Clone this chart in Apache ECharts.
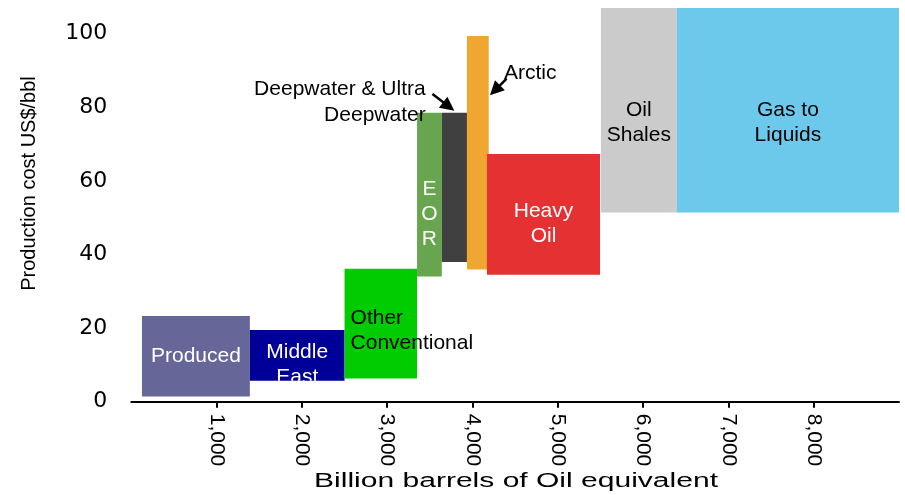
<!DOCTYPE html>
<html>
<head>
<meta charset="utf-8">
<title>Oil supply cost curve</title>
<script src="https://cdn.jsdelivr.net/npm/echarts@6/dist/echarts.min.js"></script>
<style>
  html, body { margin: 0; padding: 0; background: #fff; }
  #chart { width: 905px; height: 495px; }
</style>
</head>
<body>
<div id="chart"></div>
<script>
// Resource categories, in order of increasing cumulative volume
const categories = [
  'Produced', 'Middle East', 'Other Conventional', 'EOR',
  'Deepwater & Ultra Deepwater', 'Arctic', 'Heavy Oil', 'Oil Shales', 'Gas to Liquids'
];
// Cumulative volume span of each block (billion barrels of oil equivalent)
const volumeStart = [125, 1390, 2500, 3350, 3640, 3935, 4170, 5505, 6395];
const volumeEnd   = [1390, 2500, 3350, 3640, 3935, 4190, 5495, 6395, 9000];
// Production cost range of each block (US$/bbl)
const costLow  = [1.4, 5.7, 6.3, 34.0, 38.0, 35.9, 34.5, 51.4, 51.4];
const costHigh = [23.3, 19.5, 36.1, 78.5, 78.5, 99.4, 67.3, 107, 107];

// Axis ranges
const volumeAxis = { min: 0, max: 9000, interval: 1000 };
const costAxis = { min: 0, max: 107, interval: 20 };

// Block fill colours
const blockColors = [
  '#666699', '#000099', '#00CC00', '#67A64E', '#404040',
  '#F0A731', '#E53131', '#CBCBCB', '#6CC9EB'
];

// In-block labels: text, colour, alignment and pixel offset from the block centre
const blockLabels = [
  { text: 'Produced', color: '#fff', align: 'center', dx: 0, dy: 0 },
  { text: 'Middle\nEast', color: '#fff', align: 'center', dx: 0, dy: 9, clip: true },
  { text: 'Other\nConventional', color: '#000', align: 'left', fromLeft: 6, dy: 7 },
  { text: 'E\nO\nR', color: '#fff', align: 'center', dx: 0, dy: 19 },
  null,
  null,
  { text: 'Heavy\nOil', color: '#fff', align: 'center', dx: 0, dy: 9 },
  { text: 'Oil\nShales', color: '#000', align: 'center', dx: 0, dy: 12 },
  { text: 'Gas to\nLiquids', color: '#000', align: 'center', dx: 0, dy: 12 }
];

// Callouts with arrows, placed in data units
const callouts = [
  { text: 'Deepwater & Ultra\nDeepwater', at: [3451, 81.4], align: 'right', from: [3530, 83.6], to: [3787, 79.1] },
  { text: 'Arctic', at: [4369, 89.4], align: 'left', from: [4400, 87.8], to: [4205, 83.3] }
];

const FONT = '"Liberation Sans", Arial, Helvetica, sans-serif';
const LABEL_FONT = '21px ' + FONT;

const blockData = categories.map((name, i) => ({
  name: name,
  value: [volumeStart[i], volumeEnd[i], costLow[i], costHigh[i]]
}));

function renderBlock(params, api) {
  const i = params.dataIndex;
  const tl = api.coord([api.value(0), api.value(3)]);
  const br = api.coord([api.value(1), api.value(2)]);
  const shape = { x: tl[0], y: tl[1], width: br[0] - tl[0], height: br[1] - tl[1] };
  const children = [{
    type: 'rect',
    shape: shape,
    style: { fill: blockColors[i] }
  }];
  const lab = blockLabels[i];
  if (lab) {
    const cx = shape.x + shape.width / 2;
    const cy = shape.y + shape.height / 2;
    const tx = lab.align === 'left' ? shape.x + lab.fromLeft : cx + lab.dx;
    const text = {
      type: 'text',
      x: tx,
      y: cy + lab.dy,
      style: {
        text: lab.text,
        fill: lab.color,
        font: LABEL_FONT,
        align: lab.align,
        verticalAlign: 'middle',
        lineHeight: 25
      }
    };
    if (lab.clip) {
      children.push({ type: 'group', clipPath: { type: 'rect', shape: shape }, children: [text] });
    } else {
      children.push(text);
    }
  }
  return { type: 'group', children: children };
}

function renderCallout(params, api) {
  const c = callouts[params.dataIndex];
  const p = api.coord(c.at);
  const a = api.coord(c.from);
  const b = api.coord(c.to);
  const dx = b[0] - a[0], dy = b[1] - a[1];
  const len = Math.sqrt(dx * dx + dy * dy);
  const ux = dx / len, uy = dy / len;
  const headLen = 14, headHalf = 7;
  const base = [b[0] - ux * headLen, b[1] - uy * headLen];
  return {
    type: 'group',
    children: [
      {
        type: 'text',
        x: p[0], y: p[1],
        style: {
          text: c.text, fill: '#000', font: LABEL_FONT,
          align: c.align, verticalAlign: 'middle', lineHeight: 26
        }
      },
      {
        type: 'line',
        shape: { x1: a[0], y1: a[1], x2: base[0] + ux, y2: base[1] + uy },
        style: { stroke: '#000', lineWidth: 2.5 }
      },
      {
        type: 'polygon',
        shape: {
          points: [
            [b[0], b[1]],
            [base[0] - uy * headHalf, base[1] + ux * headHalf],
            [base[0] + uy * headHalf, base[1] - ux * headHalf]
          ]
        },
        style: { fill: '#000' }
      }
    ]
  };
}

const chart = echarts.init(document.getElementById('chart'), null, { renderer: 'canvas' });

chart.setOption({
  animation: false,
  backgroundColor: '#fff',
  grid: { left: 131.3, right: 6, top: 8, bottom: 93.3 },
  xAxis: {
    type: 'value',
    min: volumeAxis.min,
    max: volumeAxis.max,
    interval: volumeAxis.interval,
    splitLine: { show: false },
    axisLine: { show: true, lineStyle: { color: '#000', width: 2 } },
    axisTick: { show: true, length: 6, lineStyle: { color: '#000', width: 2 } },
    axisLabel: {
      rotate: -90,
      margin: 12,
      color: '#000',
      fontFamily: FONT,
      fontSize: 21,
      showMinLabel: false,
      showMaxLabel: false,
      formatter: v => String(v).replace(/\B(?=(\d{3})+(?!\d))/g, ',')
    }
  },
  yAxis: {
    type: 'value',
    min: costAxis.min,
    max: costAxis.max,
    interval: costAxis.interval,
    splitLine: { show: false },
    axisLine: { show: false },
    axisTick: { show: false },
    axisLabel: {
      margin: 24,
      color: '#000',
      fontFamily: '"DejaVu Sans", sans-serif',
      fontSize: 22,
      padding: [5, 0, 0, 0],
      showMaxLabel: false
    }
  },
  graphic: [
    {
      type: 'text',
      x: 516, y: 482,
      scaleX: 1.54,
      style: {
        text: 'Billion barrels of Oil equivalent',
        font: '19.5px ' + FONT,
        fill: '#000', align: 'center', verticalAlign: 'middle'
      }
    },
    {
      type: 'text',
      x: 29, y: 183.5,
      rotation: Math.PI / 2,
      style: {
        text: 'Production cost US$/bbl',
        font: '20px ' + FONT,
        fill: '#000', align: 'center', verticalAlign: 'middle'
      }
    }
  ],
  series: [
    {
      name: 'Resources',
      type: 'custom',
      renderItem: renderBlock,
      encode: { x: [0, 1], y: [2, 3] },
      data: blockData,
      clip: false
    },
    {
      name: 'Callouts',
      type: 'custom',
      renderItem: renderCallout,
      encode: { x: 0, y: 1 },
      data: callouts.map(c => c.at),
      clip: false,
      z: 3
    }
  ]
});
</script>
</body>
</html>
